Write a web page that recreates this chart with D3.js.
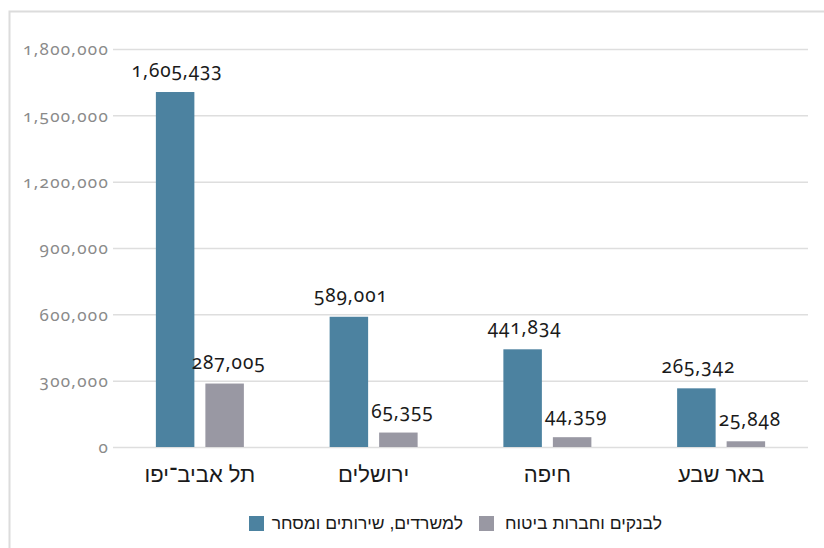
<!DOCTYPE html>
<html lang="he">
<head>
<meta charset="utf-8">
<script src="https://cdn.jsdelivr.net/npm/d3@7"></script>
<style>
  html, body { margin: 0; padding: 0; background: #fff; }
  svg { display: block; }
  .tick-label { font-family: "Noto Sans", "Open Sans", sans-serif; font-feature-settings: "onum" 1; fill: #8a8a8a; font-size: 17px; letter-spacing: 1.3px; }
  .value-label { font-family: "Noto Sans", "Open Sans", sans-serif; font-feature-settings: "onum" 1; fill: #1a1a1a; font-size: 19px; letter-spacing: 0.9px; }
  .cat-label { font-family: "Liberation Sans", Arial, sans-serif; fill: #1a1a1a; font-size: 22px; }
  .legend-label { font-family: "Liberation Sans", Arial, sans-serif; fill: #1a1a1a; font-size: 17.5px; }
</style>
</head>
<body>
<svg id="chart" width="824" height="548"></svg>
<script>
// Employment floor space by city (sq. m)
const cities = ["תל אביב־יפו", "ירושלים", "חיפה", "באר שבע"];
const officesTrade = [1605433, 589001, 441834, 265342];
const banksInsurance = [287005, 65355, 44359, 25848];
const seriesNames = ["למשרדים, שירותים ומסחר", "לבנקים וחברות ביטוח"];
const seriesColors = ["#4c82a0", "#9998a3"];
const yTicks = [0, 300000, 600000, 900000, 1200000, 1500000, 1800000];

const svg = d3.select("#chart");
const W = 824, H = 548;

// outer frame
svg.append("rect")
  .attr("x", 9.5).attr("y", 11.5)
  .attr("width", W + 10).attr("height", H + 10)
  .attr("fill", "none").attr("stroke", "#dcdcdc").attr("stroke-width", 2);

const plot = { left: 113, right: 808, top: 49, bottom: 447 };

const x = d3.scaleBand().domain(cities).range([plot.left, plot.right]).paddingInner(0).paddingOuter(0);
const y = d3.scaleLinear().domain([0, 1800000]).range([plot.bottom, plot.top]);

const fmt = d3.format(",");

// gridlines + y labels
const yAxis = d3.axisLeft(y).tickValues(yTicks).tickSize(-(plot.right - plot.left)).tickPadding(12).tickFormat(fmt);
const gy = svg.append("g").attr("transform", `translate(${plot.left},0)`).call(yAxis);
gy.select(".domain").remove();
gy.selectAll(".tick line").attr("stroke", "#dedede").attr("stroke-width", 1.5);
gy.selectAll(".tick text").attr("class", "tick-label").attr("x", -4).attr("dy", "0.35em");

// bars
const series = [officesTrade, banksInsurance];
const barW = 38.5, gap = 11;
const offsets = [-(gap / 2) - barW, gap / 2];

series.forEach((vals, si) => {
  const g = svg.append("g");
  g.selectAll("rect").data(vals).join("rect")
    .attr("x", (d, i) => x(cities[i]) + x.bandwidth() / 2 + offsets[si])
    .attr("y", d => y(d))
    .attr("width", barW)
    .attr("height", d => y(0) - y(d))
    .attr("fill", seriesColors[si]);
  g.selectAll("text").data(vals).join("text")
    .attr("class", "value-label")
    .attr("text-anchor", "middle")
    .attr("x", (d, i) => x(cities[i]) + x.bandwidth() / 2 + offsets[si] + barW / 2 + (si === 1 ? 4 : 2))
    .attr("y", d => y(d) - 15)
    .text(d => fmt(d));
});

// category labels
svg.append("g").selectAll("text").data(cities).join("text")
  .attr("class", "cat-label")
  .attr("text-anchor", "middle")
  .attr("direction", "rtl")
  .attr("x", d => x(d) + x.bandwidth() / 2)
  .attr("y", 482)
  .text(d => d);

// legend
const legend = [
  { sq: 249, textRight: 463, name: seriesNames[0], color: seriesColors[0] },
  { sq: 479, textRight: 662, name: seriesNames[1], color: seriesColors[1] }
];
const lg = svg.append("g");
legend.forEach(l => {
  lg.append("rect").attr("x", l.sq).attr("y", 516).attr("width", 15).attr("height", 15).attr("fill", l.color);
  lg.append("text").attr("class", "legend-label")
    .attr("direction", "rtl").attr("text-anchor", "start")
    .attr("x", l.textRight).attr("y", 529).text(l.name);
});
</script>
</body>
</html>
